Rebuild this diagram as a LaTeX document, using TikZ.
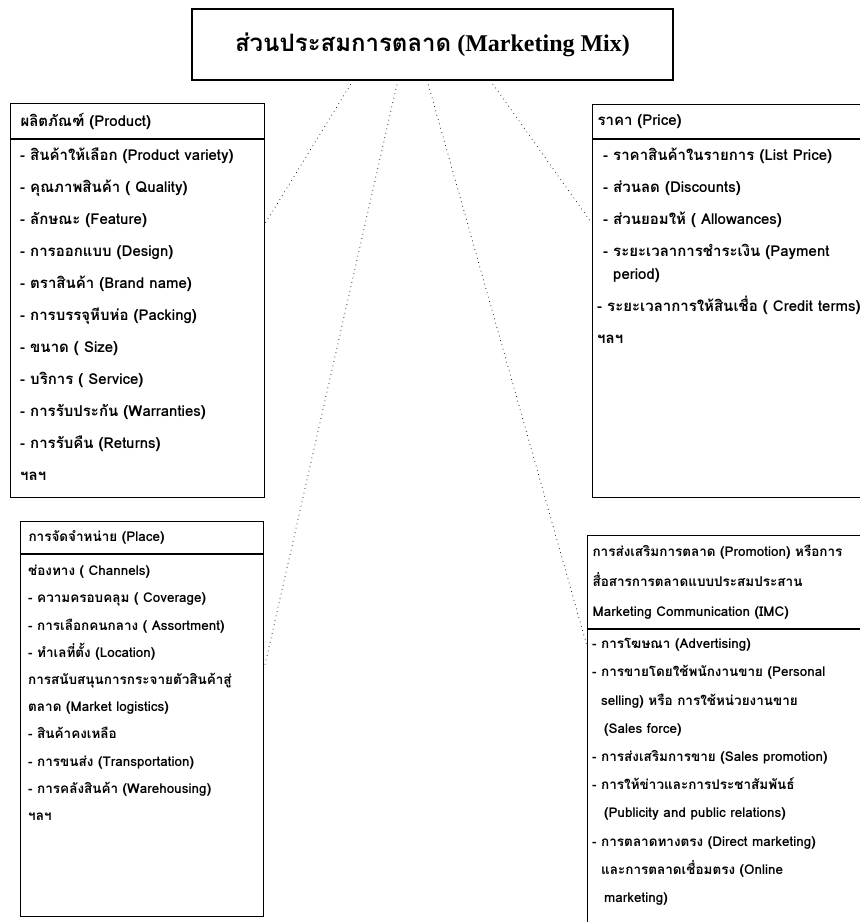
\documentclass[tikz,border=0pt]{standalone}
\usepackage{fontspec}
\setmainfont{Liberation Serif}
\newfontfamily\thaifont[Script=Thai]{Loma}
\usepackage{tikz}
\usetikzlibrary{positioning,calc}
\tikzset{
  titlebox/.style={draw, line width=1.2pt, minimum width=481pt, minimum height=71pt, font=\fontsize{24}{28}\selectfont},
  headbox/.style={draw, line width=1.1pt, align=left, inner ysep=0pt, anchor=north west},
  bodybox/.style={draw, line width=1.1pt, inner sep=0pt},
  mixtext/.style={align=left, inner sep=0pt},
  link/.style={line width=1pt, dash pattern=on 0pt off 4.5pt, line cap=round}
}

\begin{document}
\begin{tikzpicture}[x=1pt, y=-1pt]
  \useasboundingbox (0,0) rectangle (860,922);
  \node[titlebox] (title) at (432.5,44.5) {{\thaifont\bfseries ส่วนประสมการตลาด} \textbf{(Marketing Mix)}};

  % product
  \node[headbox, text width=234pt, inner xsep=10pt, minimum height=35pt, font=\thaifont\bfseries\fontsize{15}{32}\selectfont] (prodhead) at (10,103) {ผลิตภัณฑ์ (Product)};
  \node[bodybox, below=0pt of prodhead, minimum width=254pt, minimum height=358pt] (prodbody) {};
  \node[mixtext, below right=9pt and 10pt of prodbody.north west, font=\thaifont\bfseries\fontsize{15}{32}\selectfont] (prodtext) {- สินค้าให้เลือก (Product variety)\\- คุณภาพสินค้า ( Quality)\\- ลักษณะ (Feature)\\- การออกแบบ (Design)\\- ตราสินค้า (Brand name)\\- การบรรจุหีบห่อ (Packing)\\- ขนาด ( Size)\\- บริการ ( Service)\\- การรับประกัน (Warranties)\\- การรับคืน (Returns)\\ฯลฯ};

  % price
  \node[headbox, text width=278pt, inner xsep=5pt, minimum height=34pt, font=\thaifont\bfseries\fontsize{15}{32}\selectfont] (pricehead) at (592,104) {ราคา (Price)};
  \node[bodybox, below=0pt of pricehead, minimum width=288pt, minimum height=358pt] (pricebody) {};
  \node[mixtext, below right=9pt and 5pt of pricebody.north west, font=\thaifont\bfseries\fontsize{15}{32}\selectfont] (pricetext) {\hspace*{6pt}- ราคาสินค้าในรายการ (List Price)\\\hspace*{6pt}- ส่วนลด (Discounts)\\\hspace*{6pt}- ส่วนยอมให้ ( Allowances)\\\hspace*{6pt}- ระยะเวลาการชำระเงิน (Payment\\[-9pt]\hspace*{16pt}period)\\- ระยะเวลาการให้สินเชื่อ ( Credit terms)\\ฯลฯ};

  % place
  \node[headbox, text width=227pt, inner xsep=8pt, minimum height=32pt, font=\thaifont\bfseries\fontsize{13.5}{27}\selectfont] (placehead) at (20,521) {การจัดจำหน่าย (Place)};
  \node[bodybox, below=0pt of placehead, minimum width=243pt, minimum height=362pt] (placebody) {};
  \node[mixtext, below right=11pt and 8pt of placebody.north west, font=\thaifont\bfseries\fontsize{13.5}{27.2}\selectfont] (placetext) {ช่องทาง ( Channels)\\- ความครอบคลุม ( Coverage)\\- การเลือกคนกลาง ( Assortment)\\- ทำเลที่ตั้ง (Location)\\การสนับสนุนการกระจายตัวสินค้าสู่\\ตลาด (Market logistics)\\- สินค้าคงเหลือ\\- การขนส่ง (Transportation)\\- การคลังสินค้า (Warehousing)\\ฯลฯ};

  % promotion
  \node[headbox, text width=283pt, inner xsep=5pt, minimum height=93pt, font=\thaifont\bfseries\fontsize{13.5}{30}\selectfont] (promohead) at (587,535) {การส่งเสริมการตลาด (Promotion) หรือการ\\สื่อสารการตลาดแบบประสมประสาน\\Marketing Communication (IMC)};
  \node[bodybox, below=0pt of promohead, minimum width=293pt, minimum height=330pt] (promobody) {};
  \node[mixtext, below right=9pt and 5pt of promobody.north west, font=\thaifont\bfseries\fontsize{13.5}{28.2}\selectfont] (promotext) {- การโฆษณา (Advertising)\\- การขายโดยใช้พนักงานขาย (Personal\\\hspace*{9pt}selling) หรือ การใช้หน่วยงานขาย\\\hspace*{12pt}(Sales force)\\- การส่งเสริมการขาย (Sales promotion)\\- การให้ข่าวและการประชาสัมพันธ์\\\hspace*{12pt}(Publicity and public relations)\\- การตลาดทางตรง (Direct marketing)\\\hspace*{9pt}และการตลาดเชื่อมตรง (Online\\\hspace*{12pt}marketing)};

  % dotted links
  \draw[link] ($(title.south west)!0.335!(title.south east)$) -- ($(prodbody.north east)!0.235!(prodbody.south east)$);
  \draw[link] ($(title.south west)!0.428!(title.south east)$) -- ($(placebody.north east)!0.315!(placebody.south east)$);
  \draw[link] ($(title.south west)!0.489!(title.south east)$) -- ($(promobody.north west)!0.052!(promobody.south west)$);
  \draw[link] ($(title.south west)!0.62!(title.south east)$) -- ($(pricebody.north west)!0.235!(pricebody.south west)$);
\end{tikzpicture}
\end{document}
